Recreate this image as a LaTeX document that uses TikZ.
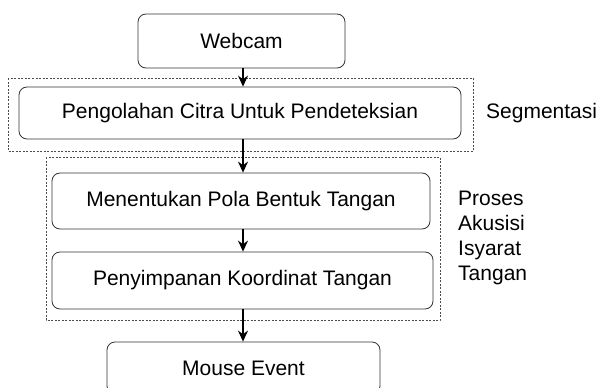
\documentclass[tikz,border=0pt]{standalone}
\usepackage{fontspec}
\setmainfont{Liberation Sans}
\usetikzlibrary{arrows.meta}

\begin{document}
\begin{tikzpicture}[x=1pt,y=-1pt,font=\fontsize{21}{25}\selectfont]
        \tikzstyle{box} = [rectangle, rounded corners=8pt, text centered, draw=black!80, line width=0.8pt, inner sep=0pt]
        \tikzstyle{group} = [draw=black!70, dashed, dash pattern=on 2pt off 1.5pt, line width=0.6pt]
        \tikzstyle{flow} = [line width=1.2pt, -{Stealth[length=11pt,width=10pt]}]
        \clip (0,0) rectangle (600,388);
        \useasboundingbox (0,0) rectangle (600,388);
        % dashed groups
        \draw [group] (8,78) rectangle (473,151);
        \draw [group] (46,157) rectangle (440,320);
        % steps
        \node (webcam) [box, minimum width=207pt, minimum height=54pt] at (241.5,41) {Webcam};
        \node (olah) [box, minimum width=442pt, minimum height=52pt] at (240,113) {Pengolahan Citra Untuk Pendeteksian};
        \node (pola) [box, minimum width=378pt, minimum height=56pt] at (241,201) {Menentukan Pola Bentuk Tangan};
        \node (simpan) [box, minimum width=381pt, minimum height=57pt] at (242.5,280.5) {Penyimpanan Koordinat Tangan};
        \node (mouse) [box, minimum width=273pt, minimum height=52pt] at (243.5,368) {Mouse Event};
        % labels
        \node (segmen) [anchor=west, inner sep=0pt] at (486,113) {Segmentasi};
        \node (akusisi) [anchor=west, inner sep=0pt, align=left] at (458,238) {Proses\\Akusisi\\Isyarat\\Tangan};
        % arrows
        \draw [flow] (webcam.south -| 243,0) -- (olah.north -| 243,0);
        \draw [flow] (olah.south -| 243,0) -- (pola.north -| 243,0);
        \draw [flow] (pola.south -| 243,0) -- (simpan.north -| 243,0);
        \draw [flow] (simpan.south -| 243,0) -- (mouse.north -| 243,0);
    \end{tikzpicture}
\end{document}
